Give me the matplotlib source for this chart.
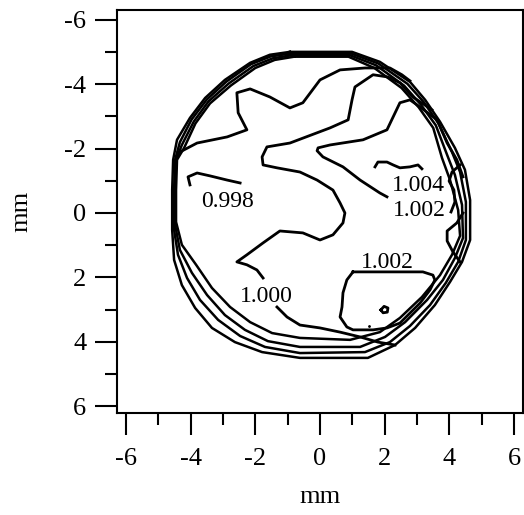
import numpy as np
import matplotlib
matplotlib.use('Agg')
import matplotlib.pyplot as plt

plt.rcParams['font.family'] = ['Liberation Serif', 'DejaVu Serif']
plt.rcParams['axes.unicode_minus'] = False

# contour traces, (x mm, y mm)
upper = np.array([(-4.39, -1.86), (-3.80, -2.17), (-2.87, -2.36), (-2.26, -2.58), (-2.53, -3.11),
                  (-2.57, -3.73), (-2.16, -3.85), (-1.55, -3.60), (-0.93, -3.26), (-0.53, -3.42),
                  (0.00, -4.13), (0.62, -4.44), (1.39, -4.50), (2.16, -4.50), (2.53, -4.29), (2.78, -4.10)])

mid_a = np.array([(3.46, -3.20), (2.87, -3.60), (2.47, -4.04), (2.10, -4.22), (1.64, -4.29), (1.08, -3.91),
                  (0.99, -3.51), (0.87, -2.89), (0.31, -2.64), (-0.93, -2.17), (-1.64, -2.05), (-1.79, -1.74),
                  (-1.76, -1.49), (-1.33, -1.40), (-0.62, -1.27), (-0.09, -1.02), (0.40, -0.71), (0.62, -0.31),
                  (0.77, 0.00), (0.71, 0.31), (0.40, 0.68), (0.00, 0.84), (-0.53, 0.62), (-1.24, 0.56),
                  (-1.76, 0.93), (-2.26, 1.30), (-2.57, 1.52), (-2.26, 1.61), (-1.95, 1.77), (-1.76, 2.02)])
mid_b = np.array([(-1.33, 2.92), (-1.02, 3.23), (-0.62, 3.48), (0.00, 3.57), (0.62, 3.70), (1.24, 3.85),
                  (1.79, 4.01), (2.32, 4.10)])

tongue_a = np.array([(4.42, -1.12), (4.23, -1.65), (3.93, -2.17), (3.62, -2.89), (3.09, -3.29), (2.78, -3.51),
                     (2.47, -3.42), (2.07, -2.58), (1.33, -2.27), (0.31, -2.11), (-0.06, -2.02), (-0.09, -1.93),
                     (0.09, -1.74), (0.71, -1.43), (1.24, -1.02), (1.85, -0.62), (2.07, -0.50)])
tongue_b = np.array([(4.05, -0.03), (4.17, -0.34), (4.14, -0.71), (3.99, -0.99), (4.08, -1.27), (4.33, -1.49)])

c1004 = np.array([(1.70, -1.43), (1.79, -1.58), (2.07, -1.58), (2.26, -1.49), (2.47, -1.40), (2.78, -1.43),
                  (3.03, -1.49), (3.15, -1.37)])

c0998 = np.array([(-4.02, -0.87), (-4.08, -1.12), (-3.80, -1.24), (-3.40, -1.15), (-2.87, -1.02), (-2.47, -0.93)])

low1002 = np.array([(1.02, 1.83), (0.83, 2.08), (0.71, 2.48), (0.68, 2.92), (0.62, 3.23), (0.83, 3.54),
                    (1.02, 3.63), (1.64, 3.63), (2.07, 3.57), (2.47, 3.42), (2.78, 3.11), (3.09, 2.80),
                    (3.40, 2.39), (3.55, 2.08), (3.49, 1.93), (3.18, 1.83)])
small_loop = np.array([(1.88, 3.01), (1.98, 2.90), (2.10, 2.95), (2.08, 3.08), (1.95, 3.10), (1.88, 3.01)])

right_bump = np.array([(4.42, 0.00), (4.23, 0.31), (3.93, 0.56), (3.93, 0.87), (4.11, 1.21), (4.33, 1.52)])

# edge contours (closed)
edge1 = np.array([(-0.93, -5.00), (0.99, -5.00), (1.85, -4.69), (2.78, -4.07), (3.25, -3.51), (3.71, -2.83),
                  (4.17, -2.02), (4.48, -1.34), (4.64, -0.40), (4.64, 0.84), (4.39, 1.52), (4.02, 2.14),
                  (3.55, 2.86), (2.94, 3.57), (2.32, 4.10), (1.48, 4.50), (-0.62, 4.50), (-1.79, 4.32),
                  (-2.63, 4.01), (-3.34, 3.57), (-3.86, 2.95), (-4.27, 2.24), (-4.51, 1.46), (-4.57, 0.53),
                  (-4.57, -0.71), (-4.54, -1.65), (-4.42, -2.27), (-4.02, -2.95), (-3.55, -3.57), (-2.94, -4.13),
                  (-2.16, -4.66), (-1.55, -4.91)])
edge2 = np.array([(-0.90, -4.95), (0.96, -4.95), (1.80, -4.64), (2.70, -4.01), (3.20, -3.45), (3.66, -2.78),
                  (4.08, -1.89), (4.33, -1.27), (4.51, -0.34), (4.51, 0.84), (4.27, 1.52), (3.89, 2.17),
                  (3.40, 2.86), (2.78, 3.51), (2.16, 4.01), (1.39, 4.32), (-0.62, 4.35), (-1.70, 4.16),
                  (-2.47, 3.82), (-3.15, 3.32), (-3.71, 2.70), (-4.11, 2.02), (-4.39, 1.30), (-4.51, 0.53),
                  (-4.51, -0.71), (-4.48, -1.65), (-4.33, -2.20), (-3.97, -2.90), (-3.50, -3.52), (-2.89, -4.08),
                  (-2.13, -4.62), (-1.52, -4.86)])
edge3 = np.array([(-0.85, -4.90), (0.92, -4.90), (1.74, -4.58), (2.60, -3.95), (3.12, -3.36), (3.58, -2.72),
                  (3.93, -1.80), (4.17, -1.18), (4.39, -0.25), (4.42, 0.78), (4.17, 1.40), (3.80, 2.08),
                  (3.31, 2.70), (2.63, 3.39), (2.01, 3.85), (1.24, 4.16), (-0.62, 4.16), (-1.61, 3.98),
                  (-2.32, 3.63), (-2.94, 3.17), (-3.49, 2.55), (-3.96, 1.86), (-4.33, 1.15), (-4.48, 0.37),
                  (-4.48, -0.71), (-4.45, -1.65), (-4.27, -2.11), (-3.90, -2.84), (-3.45, -3.46), (-2.82, -4.02),
                  (-2.06, -4.56), (-1.46, -4.80)])
edge4 = np.array([(-0.80, -4.85), (0.88, -4.85), (1.68, -4.50), (2.52, -3.88), (3.05, -3.28), (3.50, -2.64),
                  (3.77, -1.71), (4.02, -1.02), (4.27, -0.09), (4.33, 0.71), (4.08, 1.30), (3.71, 1.93),
                  (3.15, 2.61), (2.47, 3.26), (1.85, 3.70), (0.93, 3.94), (-0.62, 3.88), (-1.48, 3.73),
                  (-2.16, 3.39), (-2.78, 2.92), (-3.34, 2.33), (-3.83, 1.61), (-4.27, 0.99), (-4.45, 0.28),
                  (-4.45, -0.71), (-4.42, -1.65), (-4.20, -2.02), (-3.85, -2.78), (-3.40, -3.40), (-2.75, -3.96),
                  (-2.00, -4.50), (-1.40, -4.75)])

labels = ['0.998', '1.000', '1.002', '1.004', '1.002']
label_x = [-2.87, -1.67, 3.06, 3.03, 2.07]
label_y = [-0.37, 2.58, -0.09, -0.84, 1.55]

fig = plt.figure(figsize=(5.24, 5.15), dpi=100)
ax = fig.add_axes([0.2233, 0.1981, 0.7748, 0.7825])

for e in [edge1, edge2, edge3, edge4]:
    closed = np.vstack([e, e[:1]])
    ax.plot(closed[:, 0], closed[:, 1], color='black', lw=1.8)

for c in [upper, mid_a, mid_b, tongue_a, tongue_b, c1004, c0998, right_bump]:
    ax.plot(c[:, 0], c[:, 1], color='black', lw=2.0)

loop = np.vstack([low1002, low1002[:1]])
ax.plot(loop[:, 0], loop[:, 1], color='black', lw=2.0)
ax.plot(small_loop[:, 0], small_loop[:, 1], color='black', lw=2.0)
ax.plot([1.51], [3.51], marker='.', color='black', ms=2)

for t, x, y in zip(labels, label_x, label_y):
    ax.text(x, y, t, fontsize=17, ha='center', va='center')

ax.set_xlim(-6.275, 6.275)
ax.set_ylim(6.21, -6.30)
ax.set_xticks([-6, -4, -2, 0, 2, 4, 6])
ax.set_yticks([-6, -4, -2, 0, 2, 4, 6])
ax.set_xticks([-5, -3, -1, 1, 3, 5], minor=True)
ax.set_yticks([-5, -3, -1, 1, 3, 5], minor=True)
ax.tick_params(which='major', direction='out', length=16, width=1.5, labelsize=19, pad=6)
ax.tick_params(axis='x', which='major', pad=9.5)
ax.tick_params(which='minor', direction='out', length=8.5, width=1.5)
for s in ax.spines.values():
    s.set_linewidth(1.5)

ax.set_xlabel('mm', fontsize=19, labelpad=11)
ax.set_ylabel('mm', fontsize=19, labelpad=23)

fig.savefig('out.png', dpi=100)
